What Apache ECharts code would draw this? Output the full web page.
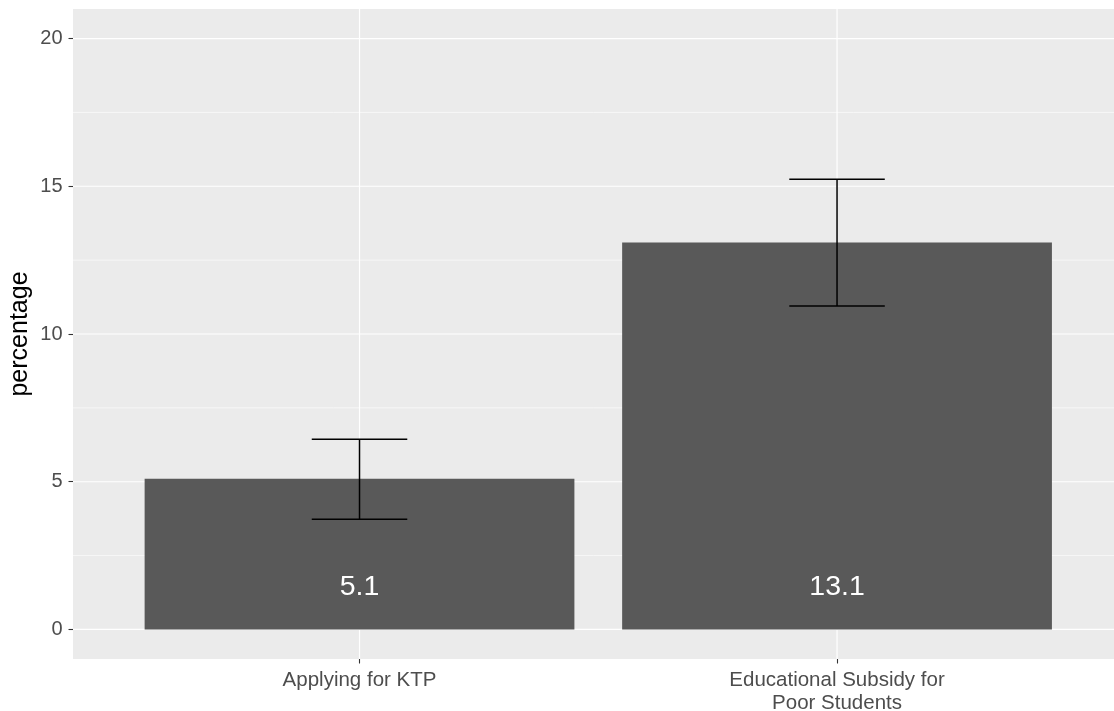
<!DOCTYPE html>
<html>
<head>
<meta charset="utf-8">
<script src="https://cdn.jsdelivr.net/npm/echarts@6/dist/echarts.min.js"></script>
<style>
  html, body { margin: 0; padding: 0; background: #ffffff; }
  #chart { width: 1114px; height: 711px; }
</style>
</head>
<body>
<div id="chart"></div>
<script>
// Survey results: share of respondents per programme, with error ranges
const categories = ['Applying for KTP', 'Educational Subsidy for\nPoor Students'];
const percentages = [5.1, 13.1];
const lowerBounds = [3.73, 10.95];
const upperBounds = [6.44, 15.24];
const yTicks = [0, 5, 10, 15, 20];
const yMinorTicks = [2.5, 7.5, 12.5, 17.5];

const BAR_HALF = 0.45;     // bar half-width in category units
const CAP_HALF = 0.1;      // error bar cap half-width
const LABEL_Y = 1.43;      // height of the value labels inside bars
const Y_MIN = -1, Y_MAX = 21;
const X_MIN = 0.4, X_MAX = 2.58;

const FONT = '"Liberation Sans", Arial, sans-serif';

const chart = echarts.init(document.getElementById('chart'), null, { renderer: 'canvas' });

const positions = categories.map((c, i) => i + 1);

const option = {
  animation: false,
  backgroundColor: '#ffffff',
  grid: {
    left: 73, right: 0, top: 9, bottom: 52,
    outerBoundsMode: 'none',
    containLabel: false,
    backgroundColor: '#EBEBEB', show: true, borderWidth: 0
  },
  xAxis: {
    type: 'value',
    position: 'bottom',
    min: X_MIN,
    max: X_MAX,
    axisLine: { show: false, onZero: false },
    splitLine: { show: false },
    axisTick: { show: true, customValues: positions, length: 4.5, lineStyle: { color: '#333333', width: 1.1 } },
    axisLabel: {
      customValues: positions,
      formatter: v => categories[Math.round(v) - 1] || '',
      color: '#4D4D4D',
      fontFamily: FONT,
      fontSize: 20.5,
      lineHeight: 23,
      margin: 10,
      align: 'center'
    }
  },
  yAxis: {
    type: 'value',
    position: 'left',
    min: Y_MIN,
    max: Y_MAX,
    name: 'percentage',
    nameLocation: 'middle',
    nameGap: 40,
    nameMoveOverlap: false,
    nameRotate: 90,
    nameTextStyle: { color: '#000000', fontFamily: FONT, fontSize: 25 },
    axisLine: { show: false, onZero: false },
    splitLine: { show: false },
    axisTick: { show: true, customValues: yTicks, length: 4.5, lineStyle: { color: '#333333', width: 1.1 } },
    axisLabel: {
      customValues: yTicks,
      color: '#4D4D4D',
      fontFamily: FONT,
      fontSize: 20,
      margin: 10.5
    }
  },
  series: [
    {
      // panel grid lines
      type: 'custom',
      silent: true,
      clip: true,
      z: 1,
      data: [0],
      renderItem: function (params, api) {
        const children = [];
        const xl = api.coord([X_MIN, 0])[0];
        const xr = api.coord([X_MAX, 0])[0];
        const yt = api.coord([0, Y_MAX])[1];
        const yb = api.coord([0, Y_MIN])[1];
        yMinorTicks.forEach(v => {
          const y = api.coord([0, v])[1];
          children.push({ type: 'line', shape: { x1: xl, y1: y, x2: xr, y2: y }, style: { stroke: '#ffffff', lineWidth: 0.6 } });
        });
        yTicks.forEach(v => {
          const y = api.coord([0, v])[1];
          children.push({ type: 'line', shape: { x1: xl, y1: y, x2: xr, y2: y }, style: { stroke: '#ffffff', lineWidth: 1.2 } });
        });
        positions.forEach(p => {
          const x = api.coord([p, 0])[0];
          children.push({ type: 'line', shape: { x1: x, y1: yt, x2: x, y2: yb }, style: { stroke: '#ffffff', lineWidth: 1.2 } });
        });
        return { type: 'group', children };
      }
    },
    {
      // bars
      type: 'custom',
      z: 2,
      data: percentages.map((v, i) => [positions[i], v]),
      encode: { x: 0, y: 1 },
      renderItem: function (params, api) {
        const x = api.value(0), v = api.value(1);
        const p0 = api.coord([x - BAR_HALF, v]);
        const p1 = api.coord([x + BAR_HALF, 0]);
        return {
          type: 'rect',
          shape: { x: p0[0], y: p0[1], width: p1[0] - p0[0], height: p1[1] - p0[1] },
          style: { fill: '#595959' }
        };
      }
    },
    {
      // error bars
      type: 'custom',
      z: 3,
      data: positions.map((p, i) => [p, lowerBounds[i], upperBounds[i]]),
      encode: { x: 0, y: [1, 2] },
      renderItem: function (params, api) {
        const x = api.value(0), lo = api.value(1), hi = api.value(2);
        const top = api.coord([x, hi]);
        const bot = api.coord([x, lo]);
        const l = api.coord([x - CAP_HALF, 0])[0];
        const r = api.coord([x + CAP_HALF, 0])[0];
        const st = { stroke: '#000000', lineWidth: 1.5 };
        return {
          type: 'group',
          children: [
            { type: 'line', shape: { x1: top[0], y1: top[1], x2: bot[0], y2: bot[1] }, style: st },
            { type: 'line', shape: { x1: l, y1: top[1], x2: r, y2: top[1] }, style: st },
            { type: 'line', shape: { x1: l, y1: bot[1], x2: r, y2: bot[1] }, style: st }
          ]
        };
      }
    },
    {
      // value labels inside the bars
      type: 'custom',
      z: 4,
      data: percentages.map((v, i) => [positions[i], v]),
      encode: { x: 0, y: 1 },
      renderItem: function (params, api) {
        const x = api.value(0), v = api.value(1);
        const pt = api.coord([x, LABEL_Y]);
        return {
          type: 'text',
          x: pt[0],
          y: pt[1],
          style: {
            text: v.toFixed(1),
            fill: '#ffffff',
            font: '28.5px ' + FONT,
            align: 'center',
            verticalAlign: 'middle'
          }
        };
      }
    }
  ]
};

chart.setOption(option);
</script>
</body>
</html>
